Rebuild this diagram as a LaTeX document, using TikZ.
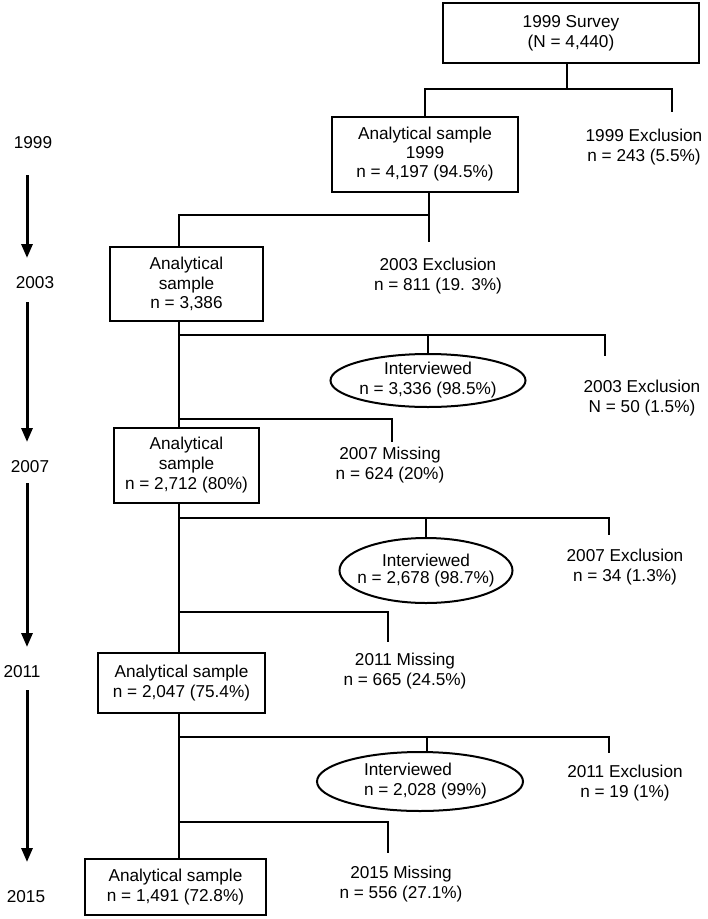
\documentclass[tikz,border=0pt]{standalone}
\usepackage{fontspec}
\setmainfont{Liberation Sans}
\usetikzlibrary{shapes.geometric,arrows.meta}
\begin{document}
\begin{tikzpicture}[x=1pt,y=-1pt,
  every node/.style={font=\fontsize{17.2}{20}\selectfont, inner sep=0pt, align=center},
  box/.style={draw, line width=2pt, rectangle},
  oval/.style={draw, line width=2pt, ellipse, inner sep=-20pt},
  conn/.style={line width=2pt},
  timearrow/.style={line width=3pt, -{Triangle[width=11pt,length=14pt]}}
]
\useasboundingbox[fill=white] (0,0) rectangle (708,919);

% year column
\node (y1999) at (33,143) {1999};
\node (y2003) at (35,283) {2003};
\node (y2007) at (30,467) {2007};
\node (y2011) at (22,672) {2011};
\node (y2015) at (26,897) {2015};
\coordinate (t1s) at (27,175); \coordinate (t1e) at (27,258);
\coordinate (t2s) at (27,302); \coordinate (t2e) at (27,442);
\coordinate (t3s) at (27,483); \coordinate (t3e) at (27,647);
\coordinate (t4s) at (27,690); \coordinate (t4e) at (27,862);
\draw[timearrow] (t1s) -- (t1e);
\draw[timearrow] (t2s) -- (t2e);
\draw[timearrow] (t3s) -- (t3e);
\draw[timearrow] (t4s) -- (t4e);

% boxes
\node[box, minimum width=256, minimum height=60] (survey) at (571,33) {1999 Survey\\(N = 4,440)};
\node[box, minimum width=186, minimum height=75, font=\fontsize{17.2}{19}\selectfont] (a1999) at (425,154.5) {Analytical sample\\1999\\n = 4,197 (94.5\%)};
\node[box, minimum width=153, minimum height=74, font=\fontsize{17.2}{19.5}\selectfont] (a2003) at (186.5,284) {Analytical\\sample\\n = 3,386};
\node[box, minimum width=145, minimum height=75] (a2007) at (186.5,465.5) {Analytical\\sample\\n = 2,712 (80\%)};
\node[box, minimum width=167, minimum height=60] (a2011) at (181.5,683) {Analytical sample\\n = 2,047 (75.4\%)};
\node[box, minimum width=181, minimum height=56] (a2015) at (175.5,887) {Analytical sample\\n = 1,491 (72.8\%)};

% side labels
\node (ex1999) at (644,147) {1999 Exclusion\\n = 243 (5.5\%)};
\node (ex2003) at (438,276) {2003 Exclusion\\n = 811 (19. 3\%)};
\node[oval, minimum width=195, minimum height=53] (int2003) at (428,380.5) {Interviewed\\n = 3,336 (98.5\%)};
\node (xc2003) at (642,398) {2003 Exclusion\\N = 50 (1.5\%)};
\node (ms2007) at (390,465) {2007 Missing\\n = 624 (20\%)};
\node[oval, minimum width=173, minimum height=65, font=\fontsize{17.2}{17.5}\selectfont] (int2007) at (426,570.5) {Interviewed\\n = 2,678 (98.7\%)};
\node (xc2007) at (625,567) {2007 Exclusion\\n = 34 (1.3\%)};
\node (ms2011) at (405,671) {2011 Missing\\n = 665 (24.5\%)};
\node[oval, minimum width=206, minimum height=59, align=left] (int2011) at (420,781.5) {\hspace*{11pt}Interviewed\\\hspace*{11pt}n = 2,028 (99\%)};
\node (xc2011) at (625,783) {2011 Exclusion\\n = 19 (1\%)};
\node (ms2015) at (401,884) {2015 Missing\\n = 556 (27.1\%)};

% main axis
\coordinate (main) at (179,0);

% 1999 split
\coordinate (j0) at (567,89);
\coordinate (e1999end) at (672,112);
\draw[conn] (survey.south -| j0) -- (j0);
\draw[conn] (a1999.north) -- (a1999.north |- j0) -- (e1999end |- j0) -- (e1999end);

% 2003 split
\coordinate (j1) at (429,215);
\coordinate (e2003end) at (429,242);
\draw[conn] (a1999.south -| j1) -- (e2003end);
\draw[conn] (a2003.north -| main) -- (main |- j1) -- (j1);

% main line 2003 -> 2007
\draw[conn] (a2003.south -| main) -- (a2007.north -| main);
\coordinate (b3) at (0,335);
\coordinate (x2003end) at (605,356);
\draw[conn] (main |- b3) -- (x2003end |- b3) -- (x2003end);
\draw[conn] (int2003.north) -- (int2003.north |- b3);
\coordinate (m7) at (392,442);
\draw[conn] (main |- 0,419) -- (m7 |- 0,419) -- (m7);

% main line 2007 -> 2011
\draw[conn] (a2007.south -| main) -- (a2011.north -| main);
\coordinate (b7) at (0,518);
\coordinate (x2007end) at (609,535);
\draw[conn] (main |- b7) -- (x2007end |- b7) -- (x2007end);
\draw[conn] (int2007.north) -- (int2007.north |- b7);
\coordinate (m11) at (388,642);
\draw[conn] (main |- 0,612) -- (m11 |- 0,612) -- (m11);

% main line 2011 -> 2015
\draw[conn] (a2011.south -| main) -- (a2015.north -| main);
\coordinate (b11) at (0,737);
\coordinate (x2011end) at (609,753);
\coordinate (v11) at (427,0);
\draw[conn] (main |- b11) -- (x2011end |- b11) -- (x2011end);
\draw[conn] (int2011.north -| v11) -- (v11 |- b11);
\coordinate (m15) at (388,853);
\draw[conn] (main |- 0,822) -- (m15 |- 0,822) -- (m15);
\end{tikzpicture}
\end{document}
